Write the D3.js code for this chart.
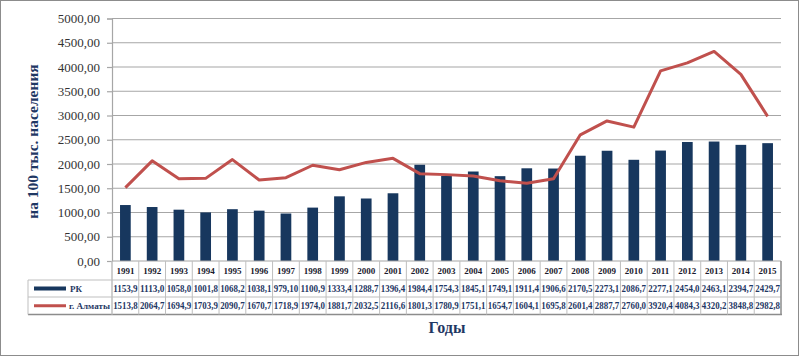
<!DOCTYPE html>
<html><head><meta charset="utf-8">
<script src="https://cdn.jsdelivr.net/npm/d3@7/dist/d3.min.js"></script>
<style>body{margin:0;background:#fff}svg{display:block}</style>
</head><body><svg id="c" width="800" height="358"></svg>
<script>
const years = ["1991","1992","1993","1994","1995","1996","1997","1998","1999","2000","2001","2002","2003","2004","2005","2006","2007","2008","2009","2010","2011","2012","2013","2014","2015"];
const rk = [1153.9,1113.0,1058.0,1001.8,1068.2,1038.1,979.10,1100.9,1333.4,1288.7,1396.4,1984.4,1754.3,1845.1,1749.1,1911.4,1906.6,2170.5,2273.1,2086.7,2277.1,2454.0,2463.1,2394.7,2429.7];
const rkText = ["1153,9","1113,0","1058,0","1001,8","1068,2","1038,1","979,10","1100,9","1333,4","1288,7","1396,4","1984,4","1754,3","1845,1","1749,1","1911,4","1906,6","2170,5","2273,1","2086,7","2277,1","2454,0","2463,1","2394,7","2429,7"];
const almaty = [1513.8,2064.7,1694.9,1703.9,2090.7,1670.7,1718.9,1974.0,1881.7,2032.5,2116.6,1801.3,1780.9,1751.1,1654.7,1604.1,1695.8,2601.4,2887.7,2760.0,3920.4,4084.3,4320.2,3848.8,2982.8];
const almatyText = ["1513,8","2064,7","1694,9","1703,9","2090,7","1670,7","1718,9","1974,0","1881,7","2032,5","2116,6","1801,3","1780,9","1751,1","1654,7","1604,1","1695,8","2601,4","2887,7","2760,0","3920,4","4084,3","4320,2","3848,8","2982,8"];
const yTicks = [0,500,1000,1500,2000,2500,3000,3500,4000,4500,5000];
const seriesNames = ["РК","г. Алматы"];

const svg = d3.select("#c");
const L = 112, R = 781, T = 18.5, B = 261;
const navy = "#17375e", red = "#c0504d", grid = "#a6a6a6";
const serif = "'Liberation Serif','Times New Roman',serif";

// outer frame
svg.append("rect").attr("x",0.5).attr("y",0.5).attr("width",798).attr("height",355)
  .attr("fill","none").attr("stroke","#8c8c8c").attr("stroke-width",1);

const x = d3.scaleBand().domain(years).range([L,R]).paddingInner(0).paddingOuter(0);
const y = d3.scaleLinear().domain([0,5000]).range([B,T]);

// gridlines
svg.append("g").selectAll("line").data(yTicks.filter(d=>d>0)).join("line")
  .attr("x1",L).attr("x2",R).attr("y1",d=>y(d)).attr("y2",d=>y(d))
  .attr("stroke",grid).attr("stroke-width",1.2);

// y axis
const yAxis = d3.axisLeft(y).tickValues(yTicks).tickSize(5).tickPadding(7)
  .tickFormat(d=>d3.format(".2f")(d).replace(".",","));
const ga = svg.append("g").attr("transform",`translate(${L},0)`).call(yAxis);
ga.select(".domain").attr("stroke",grid).attr("stroke-width",1.2);
ga.selectAll(".tick line").attr("stroke",grid).attr("stroke-width",1.2);
ga.selectAll(".tick text").attr("font-family",serif).attr("font-size",13).attr("fill","#333");

// bars
const bw = x.bandwidth()*0.4;
svg.append("g").selectAll("rect").data(rk).join("rect")
  .attr("x",(d,i)=>x(years[i])+x.bandwidth()/2-bw/2)
  .attr("width",bw)
  .attr("y",d=>y(d)).attr("height",d=>B-y(d))
  .attr("fill",navy);

// line
const line = d3.line().x((d,i)=>x(years[i])+x.bandwidth()/2).y(d=>y(d));
svg.append("path").datum(almaty).attr("d",line).attr("fill","none")
  .attr("stroke",red).attr("stroke-width",3).attr("stroke-linejoin","round");

// data table
const rows = [B, 280, 297, 314.5];
const tg = svg.append("g");
const tcol = "#bfbfbf";
tg.append("line").attr("x1",L).attr("x2",R).attr("y1",rows[0]).attr("y2",rows[0]).attr("stroke",grid).attr("stroke-width",1.2);
[rows[1],rows[2]].forEach(v=>tg.append("line").attr("x1",28).attr("x2",R).attr("y1",v).attr("y2",v).attr("stroke",tcol).attr("stroke-width",1));
tg.append("line").attr("x1",28).attr("x2",R+1).attr("y1",rows[3]).attr("y2",rows[3]).attr("stroke","#8c8c8c").attr("stroke-width",1.5);
years.forEach((yr,i)=>{
  tg.append("line").attr("x1",x(yr)).attr("x2",x(yr)).attr("y1",rows[0]).attr("y2",rows[3]).attr("stroke",tcol).attr("stroke-width",1);
});
tg.append("line").attr("x1",R).attr("x2",R).attr("y1",rows[0]).attr("y2",rows[3]).attr("stroke","#8c8c8c").attr("stroke-width",1.5);
tg.append("line").attr("x1",28).attr("x2",28).attr("y1",rows[1]).attr("y2",rows[3]).attr("stroke",tcol).attr("stroke-width",1);
tg.append("line").attr("x1",L).attr("x2",L).attr("y1",rows[0]).attr("y2",rows[3]).attr("stroke",tcol).attr("stroke-width",1);

tg.selectAll("text.yr").data(years).join("text").attr("class","yr")
  .attr("x",d=>x(d)+x.bandwidth()/2).attr("y",(rows[0]+rows[1])/2+3.5)
  .attr("text-anchor","middle").attr("font-family",serif).attr("font-weight","bold")
  .attr("font-size",9).attr("fill","#1a1a2e").text(d=>d);
function cellText(cls, arr, r0, r1){
  tg.selectAll("text."+cls).data(arr).join("text").attr("class",cls)
    .attr("x",(d,i)=>x(years[i])+x.bandwidth()/2).attr("y",(r0+r1)/2+3.5)
    .attr("text-anchor","middle").attr("font-family",serif).attr("font-weight","bold")
    .attr("font-size",9.5).attr("fill","#1f3864")
    .attr("textLength",24.5).attr("lengthAdjust","spacingAndGlyphs").text(d=>d);
}
cellText("rk", rkText, rows[1], rows[2]);
cellText("al", almatyText, rows[2], rows[3]);

tg.append("rect").attr("x",34).attr("y",(rows[1]+rows[2])/2-2).attr("width",32).attr("height",4).attr("fill",navy);
tg.append("line").attr("x1",34).attr("x2",66).attr("y1",(rows[2]+rows[3])/2).attr("y2",(rows[2]+rows[3])/2).attr("stroke",red).attr("stroke-width",3);
tg.append("text").attr("x",70).attr("y",(rows[1]+rows[2])/2+3.5).attr("font-family",serif).attr("font-weight","bold").attr("font-size",9).attr("fill","#1f3864").text(seriesNames[0]);
tg.append("text").attr("x",69).attr("y",(rows[2]+rows[3])/2+3.5).attr("font-family",serif).attr("font-weight","bold").attr("font-size",9).attr("fill","#1f3864").text(seriesNames[1]);

svg.append("text").attr("x",447).attr("y",333).attr("text-anchor","middle")
  .attr("font-family",serif).attr("font-weight","bold").attr("font-size",16).attr("fill","#1f3864").text("Годы");
svg.append("text").attr("transform","translate(38,141.5) rotate(-90)").attr("text-anchor","middle")
  .attr("font-family",serif).attr("font-weight","bold").attr("font-size",15.5).attr("fill","#1f3864").text("на 100 тыс. населения");
</script></body></html>
